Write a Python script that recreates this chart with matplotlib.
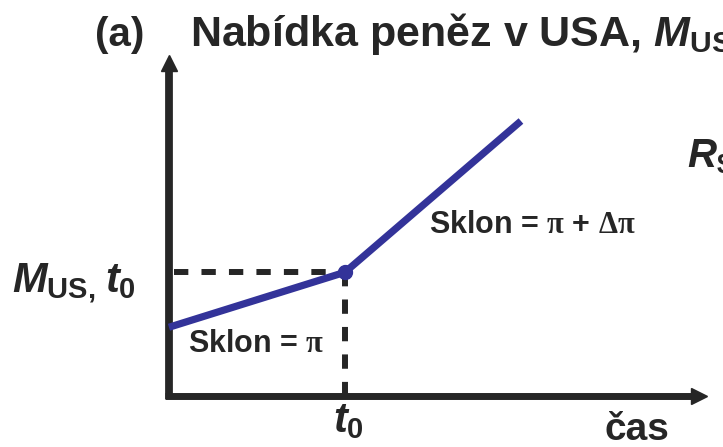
import matplotlib
matplotlib.use('Agg')
import matplotlib.pyplot as plt

plt.rcParams['font.family'] = ['Liberation Sans', 'DejaVu Sans']
plt.rcParams['font.weight'] = 'bold'
plt.rcParams['mathtext.fontset'] = 'custom'
plt.rcParams['mathtext.it'] = 'Liberation Sans:italic:bold'
plt.rcParams['mathtext.rm'] = 'Liberation Serif'
plt.rcParams['mathtext.sf'] = 'Liberation Sans:bold'
plt.rcParams['mathtext.bf'] = 'Liberation Sans:bold'

# money supply path: slope pi before t0, pi + delta pi after
t = [0, 1, 2]
supply = [1.25, 2.25, 5.0]
t0 = 1
m_t0 = 2.25

ink = '#262626'
blue = '#333399'

fig = plt.figure(figsize=(7.23, 4.47), dpi=100)
ax = fig.add_axes([0, 0, 1, 1])
ax.set_xlim(-0.960, 3.148)
ax.set_ylim(-0.927, 7.2)
ax.axis('off')

# axes with arrow heads
ax.plot([-0.025, 2.99], [0, 0], color=ink, lw=5.0, solid_capstyle='butt', zorder=3)
ax.plot([2.99 + 0.02], [0], marker='>', ms=12, color=ink, zorder=3)
ax.plot([0, 0], [-0.05, 6.0], color=ink, lw=5.6, solid_capstyle='butt', zorder=3)
ax.plot([0], [6.06], marker='^', ms=12, color=ink, zorder=3)

# dashed guides to t0
ax.plot([0.03, t0], [m_t0, m_t0], color=ink, lw=4.3, dashes=(2.4, 2.2), zorder=2)
ax.plot([t0, t0], [m_t0, 0], color=ink, lw=4.3, dashes=(2.4, 2.2), zorder=2)

ax.plot(t, supply, color=blue, lw=5.2, solid_capstyle='butt', zorder=4)
ax.plot([t0], [m_t0], marker='o', ms=10, color=blue, zorder=5)

def px(x, y):
    return x / 723, 1 - y / 447

fs = dict(color=ink, fontweight='bold', va='baseline')
fig.text(*px(95, 46), '(a)', fontsize=29, **fs)
fig.text(*px(190, 46), r'Nabídka peněz v USA, $M_{\mathsf{US}}$', fontsize=31, **fs)
fig.text(*px(687, 168), r'$R_{\mathsf{\$}}$', fontsize=29, **fs)
fig.text(*px(12, 292), r'$M_{\mathsf{US,}}$', fontsize=30, **fs)
fig.text(*px(105, 292), r'$t_{\mathsf{0}}$', fontsize=30, **fs)
fig.text(*px(188, 352), r'Sklon = $\mathrm{\pi}$', fontsize=22, **fs)
fig.text(*px(429, 233), r'Sklon = $\mathrm{\pi}$ + $\mathrm{\Delta\pi}$', fontsize=22, **fs)
fig.text(*px(333, 432), r'$t_{\mathsf{0}}$', fontsize=30, **fs)
fig.text(*px(605, 440), 'čas', fontsize=28, **fs)

fig.savefig('out.png', dpi=100)
